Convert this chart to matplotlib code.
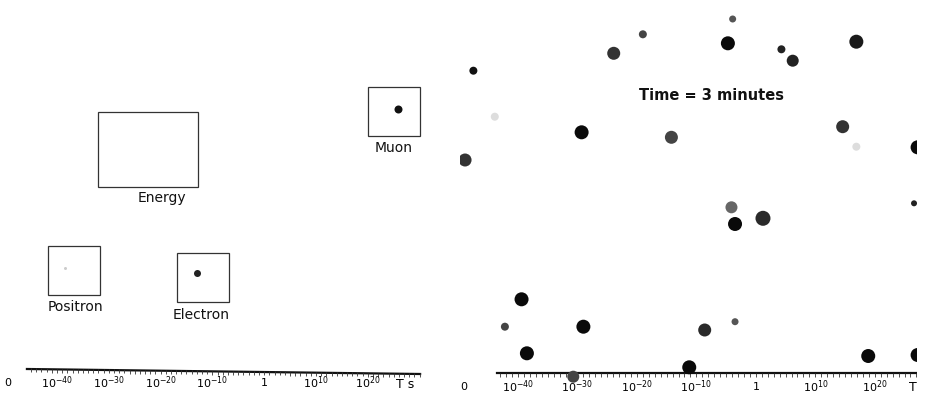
import matplotlib.pyplot as plt
from matplotlib.patches import Rectangle

# time axis: positions are log10(T / s); "0" and "T" sit at the two ends
tick_exps = [-40, -30, -20, -10, 0, 10, 20]
tick_labels = [r"$10^{-40}$", r"$10^{-30}$", r"$10^{-20}$", r"$10^{-10}$", "1",
               r"$10^{10}$", r"$10^{20}$"]

# left panel: particle boxes (x in the same log-time units, y from top)
box_names = ["Energy", "Muon", "Positron", "Electron"]
box_x0 = [-32.0, 20.1, -41.7, -16.9]
box_x1 = [-12.7, 30.1, -31.7, -6.8]
box_y0 = [111.7, 87.3, 245.7, 253.3]
box_y1 = [186.7, 136.0, 295.0, 301.7]
label_x = [-19.8, 24.9, -36.5, -12.1]
label_y = [198.3, 148.3, 306.7, 315.0]
# dot inside each box (None = empty)
box_dot_x = [None, 25.9, -38.5, -13.0]
box_dot_y = [None, 109.3, 268.0, 272.7]
box_dot_d = [0, 8, 3, 7]
box_dot_c = [None, "#111111", "#cccccc", "#222222"]

# right panel: particles at t = 3 minutes
dot_x = [-47.5, -48.9, -43.9, -29.3, -23.9, -19.0, -14.2, -3.9, -4.7, 4.3,
         6.2, 16.9, 14.6, 16.9, 27.2, -4.1, -3.5, 1.2, 26.6, -39.4,
         -42.2, -29.0, -38.5, -8.6, -3.5, -11.2, 18.9, 27.2, -30.7]
dot_y = [70.7, 160.0, 116.7, 132.3, 53.3, 34.3, 137.3, 19.0, 43.3, 49.3,
         60.7, 41.7, 126.7, 146.7, 147.3, 207.3, 224.0, 218.3, 203.3, 299.3,
         326.7, 326.7, 353.3, 330.0, 321.7, 367.3, 356.0, 355.0, 376.7]
dot_d = [8, 13, 8, 14, 13, 8, 13, 7, 14, 8,
         12, 14, 13, 8, 14, 12, 14, 15, 6, 14,
         8, 14, 14, 13, 7, 14, 14, 14, 12]
dot_c = ["#111111", "#333333", "#dddddd", "#0a0a0a", "#333333", "#444444", "#444444", "#555555", "#0a0a0a", "#222222",
         "#222222", "#1a1a1a", "#333333", "#dddddd", "#0a0a0a", "#666666", "#0a0a0a", "#2a2a2a", "#222222", "#0a0a0a",
         "#444444", "#0a0a0a", "#0a0a0a", "#2a2a2a", "#555555", "#0a0a0a", "#0a0a0a", "#0a0a0a", "#444444"]

W, H = 929, 403
fig = plt.figure(figsize=(W / 100, H / 100), dpi=100)
fig.patch.set_facecolor("white")

axl = fig.add_axes([0, 0, 460 / W, 1])
axr = fig.add_axes([460 / W, 0, 457 / W, 1])
axl.set_xlim(-51.0, 37.8)
axr.set_xlim(-49.75, 27.1)
for ax in (axl, axr):
    ax.set_ylim(H, 0)
    ax.axis("off")

fs_label = 10
fs_tick = 8

# ---- left panel ----
for i, name in enumerate(box_names):
    axl.add_patch(Rectangle((box_x0[i], box_y0[i]), box_x1[i] - box_x0[i],
                            box_y1[i] - box_y0[i], fill=False,
                            edgecolor="#333333", linewidth=0.9))
    axl.text(label_x[i], label_y[i], name, ha="center", va="center",
             fontsize=fs_label, color="#111111")
    if box_dot_x[i] is not None:
        axl.scatter([box_dot_x[i]], [box_dot_y[i]], s=(0.72 * box_dot_d[i]) ** 2,
                    color=box_dot_c[i], linewidths=0)

# slightly tilted time axis
axl.plot([-45.8, 30.1], [369.0, 374.0], color="#111111", linewidth=1.6)
minor = [e for e in range(-45, 31)]
axl.plot(minor, [369.0 + (e + 45.8) * 5.0 / 75.9 + 1.2 for e in minor], "|",
         color="#333333", markersize=2.5, markeredgewidth=0.6)
for e, lab in zip(tick_exps, tick_labels):
    axl.text(e, 383, lab, ha="center", va="center", fontsize=fs_tick)
axl.text(-49.5, 383, "0", ha="center", va="center", fontsize=fs_tick)
axl.text(27.2, 384, "T s", ha="center", va="center", fontsize=fs_tick + 1)

# ---- right panel ----
axr.scatter(dot_x, dot_y, s=[(0.72 * d) ** 2 for d in dot_d], c=dot_c,
            linewidths=0, zorder=3)
axr.plot([-43.5, 27.1], [373.3, 373.3], color="#111111", linewidth=1.6)
minor_r = [e for e in range(-43, 28)]
axr.plot(minor_r, [374.8] * len(minor_r), "|", color="#333333",
         markersize=2.5, markeredgewidth=0.6)
for e, lab in zip(tick_exps, tick_labels):
    axr.text(e, 386.7, lab, ha="center", va="center", fontsize=fs_tick)
axr.text(-49.2, 386.7, "0", ha="center", va="center", fontsize=fs_tick)
axr.text(26.4, 387.5, "T", ha="center", va="center", fontsize=fs_tick + 1)
axr.text(-7.5, 95.7, "Time = 3 minutes", ha="center", va="center",
         fontsize=10.5, fontweight="bold", color="#111111")

fig.savefig("out.png", dpi=100, facecolor="white")
